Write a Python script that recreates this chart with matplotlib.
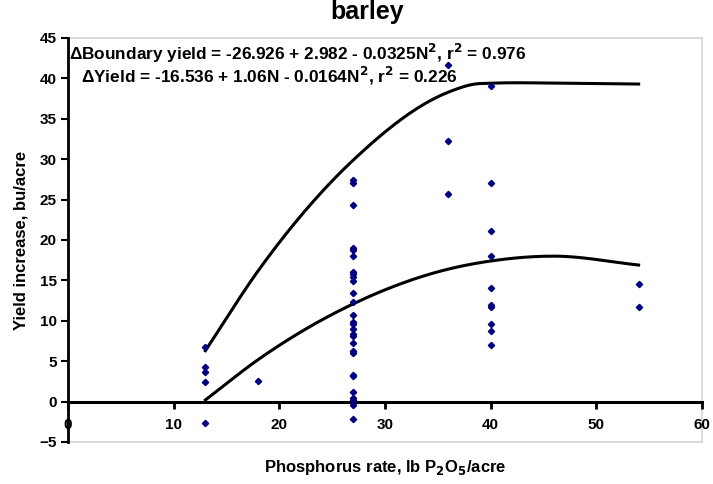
import numpy as np
import matplotlib.pyplot as plt
from matplotlib.patches import Rectangle

plt.rcParams['font.family'] = ['Liberation Sans', 'DejaVu Sans']
plt.rcParams['font.weight'] = 'bold'

# observed yield increases (bu/acre) by P rate (lb P2O5/acre)
rate_13 = [6.8, 4.3, 3.7, 2.4, -2.6]
rate_18 = [2.6]
rate_27 = [27.4, 27.0, 24.3, 19.0, 18.7, 18.0, 16.1, 15.8, 15.4, 14.9, 13.4,
           12.3, 10.7, 9.9, 9.6, 9.0, 8.4, 8.1, 7.2, 6.3, 6.0, 3.3, 3.2,
           1.2, 0.5, 0.2, -0.4, -2.2]
rate_36 = [41.7, 32.3, 25.7]
rate_40 = [39.0, 27.0, 21.1, 18.0, 14.1, 11.9, 11.7, 9.6, 8.7, 7.0]
rate_54 = [14.5, 11.7]

# fitted curves, values
boundary_n = [13, 18, 27, 36, 38.5, 40, 47, 54]
boundary_vals = [6.3, 16.2, 29.9, 38.3, 39.3, 39.4, 39.4, 39.3]
yield_n = [13, 18, 27, 36, 40, 46, 54]
yield_vals = [0.2, 5.2, 12.1, 16.4, 17.4, 18.0, 16.9]

x_ticks = [0, 10, 20, 30, 40, 50, 60]
y_ticks = [-5, 0, 5, 10, 15, 20, 25, 30, 35, 40, 45]


def smooth(xs, ys, n=40):
    # cubic hermite through the nodes, like a spreadsheet "smoothed line"
    xs = np.asarray(xs, float)
    ys = np.asarray(ys, float)
    m = np.gradient(ys, xs)
    out_x, out_y = [], []
    t = np.linspace(0, 1, n)
    for i in range(len(xs) - 1):
        h = xs[i + 1] - xs[i]
        h00 = 2 * t ** 3 - 3 * t ** 2 + 1
        h10 = t ** 3 - 2 * t ** 2 + t
        h01 = -2 * t ** 3 + 3 * t ** 2
        h11 = t ** 3 - t ** 2
        out_x.extend(xs[i] + h * t)
        out_y.extend(h00 * ys[i] + h10 * h * m[i] + h01 * ys[i + 1]
                     + h11 * h * m[i + 1])
    return out_x, out_y


fig = plt.figure(figsize=(7.13, 4.84), dpi=100)
ax = fig.add_axes([0.0954, 0.0868, 0.8892, 0.8347])

groups = [(13, rate_13), (18, rate_18), (27, rate_27), (36, rate_36),
          (40, rate_40), (54, rate_54)]
for n, vals in groups:
    ax.plot([n] * len(vals), vals, 'D', color='#000080', ms=3.2,
            mec='#000080', zorder=3)

bx, by = smooth(boundary_n, boundary_vals)
ax.plot(bx, by, color='black', lw=2.2, zorder=2)
yx, yy = smooth(yield_n, yield_vals)
ax.plot(yx, yy, color='black', lw=2.2, zorder=2)

ax.set_xlim(0, 60)
ax.set_ylim(-5, 45)
ax.set_xticks(x_ticks)
ax.set_yticks(y_ticks)

ax.spines['bottom'].set_position(('data', 0))
ax.spines['bottom'].set_linewidth(2.2)
ax.spines['left'].set_linewidth(2.0)
ax.spines['top'].set_visible(False)
ax.spines['right'].set_visible(False)
ax.add_patch(Rectangle((0, 0), 1, 1, transform=ax.transAxes, fill=False,
                       ec='#d4d4d4', lw=1.2, clip_on=False, zorder=0))

ax.tick_params(axis='x', direction='out', length=5, width=2, pad=7,
               labelsize=11)
ax.tick_params(axis='y', direction='out', length=5, width=1.5, pad=3,
               labelsize=11)
for lab in ax.get_xticklabels() + ax.get_yticklabels():
    lab.set_fontweight('bold')

fig.text(0.515, 0.975, 'barley', ha='center', va='center', fontsize=18,
         fontweight='bold')
ax.set_ylabel('Yield increase, bu/acre', fontsize=12, fontweight='bold',
              labelpad=8)
fig.text(0.54, 0.035, 'Phosphorus rate, lb P$_\\mathbf{2}$O$_\\mathbf{5}$/acre',
         ha='center', va='center', fontsize=12, fontweight='bold')

ax.text(0.002, 0.962, '\u0394Boundary yield = -26.926 + 2.982 - 0.0325N$^\\mathbf{2}$, '
        'r$^\\mathbf{2}$ = 0.976', transform=ax.transAxes, fontsize=12.4,
        fontweight='bold', va='center', ha='left')
ax.text(0.021, 0.905, '\u0394Yield = -16.536 + 1.06N - 0.0164N$^\\mathbf{2}$, '
        'r$^\\mathbf{2}$ = 0.226', transform=ax.transAxes, fontsize=12.4,
        fontweight='bold', va='center', ha='left')

fig.savefig('out.png', dpi=100)
